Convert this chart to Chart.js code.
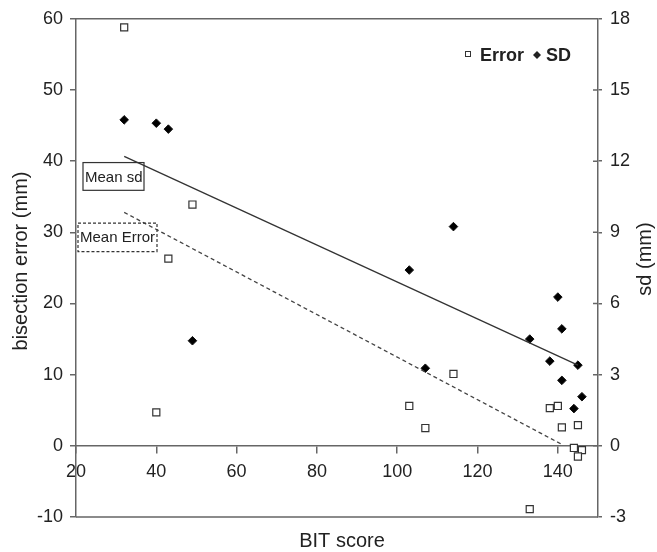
<!DOCTYPE html>
<html>
<head>
<meta charset="utf-8">
<script src="https://cdn.jsdelivr.net/npm/chart.js@4.4.0/dist/chart.umd.min.js"></script>
<style>
  html, body { margin: 0; padding: 0; background: #fff; }
  #wrap { width: 657px; height: 552px; }
</style>
</head>
<body>
<div id="wrap"><canvas id="grafica"></canvas></div>
<script>
// datos
const bitError = [32, 49, 43, 40, 103, 107, 114, 133, 138, 140, 141, 145, 144, 146, 145];
const errorVals = [58.8, 33.9, 26.3, 4.7, 5.6, 2.5, 10.1, -8.9, 5.3, 5.6, 2.6, 2.9, -0.3, -0.6, -1.5];

const bitSD = [32, 40, 43, 49, 114, 103, 107, 133, 138, 140, 141, 141, 145, 144, 146];
const sdVals = [13.74, 13.6, 13.35, 4.43, 9.24, 7.41, 3.27, 4.5, 3.57, 6.27, 4.93, 2.76, 3.4, 1.57, 2.07];

// lineas de tendencia (extremos)
const meanSdX = [32, 145];
const meanSdY = [12.2, 3.4];
const meanErrX = [32, 141];
const meanErrY = [32.8, 0.2];

// ticks
const xTicks = [20, 40, 60, 80, 100, 120, 140];
const yTicks = [-10, 0, 10, 20, 30, 40, 50, 60];
const y2Ticks = [-3, 0, 3, 6, 9, 12, 15, 18];

const FONT = '"Liberation Sans", Arial, sans-serif';
const AXIS = '#666';
const INK = '#222';

function puntos(xs, ys) {
  return xs.map((x, i) => ({ x: x, y: ys[i] }));
}

// dibuja bordes, titulos, leyenda y cajas de texto
const decoracion = {
  id: 'decoracion',
  afterDraw(chart) {
    const ctx = chart.ctx;
    const a = chart.chartArea;
    const y = chart.scales.y;
    const y2 = chart.scales.y2;
    ctx.save();

    // borde superior e inferior
    ctx.strokeStyle = AXIS;
    ctx.lineWidth = 1.5;
    ctx.beginPath();
    ctx.moveTo(a.left, a.top); ctx.lineTo(a.right, a.top);
    ctx.moveTo(a.left, a.bottom); ctx.lineTo(a.right, a.bottom);
    // parte interior de los ticks del eje derecho
    y2Ticks.forEach(v => {
      const py = y2.getPixelForValue(v);
      ctx.moveTo(a.right - 5, py); ctx.lineTo(a.right, py);
    });
    ctx.stroke();

    // titulos de ejes
    ctx.fillStyle = INK;
    ctx.font = '20px ' + FONT;
    ctx.textAlign = 'center';
    ctx.textBaseline = 'middle';
    ctx.fillText('BIT score', 342, 541);

    ctx.save();
    ctx.translate(21, 261);
    ctx.rotate(-Math.PI / 2);
    ctx.fillText('bisection error (mm)', 0, 0);
    ctx.restore();

    ctx.save();
    ctx.translate(645, 259);
    ctx.rotate(-Math.PI / 2);
    ctx.fillText('sd (mm)', 0, 0);
    ctx.restore();

    // leyenda
    ctx.font = 'bold 18px ' + FONT;
    ctx.textAlign = 'left';
    ctx.textBaseline = 'alphabetic';
    ctx.lineWidth = 1;
    ctx.strokeStyle = '#333';
    ctx.fillStyle = '#fff';
    ctx.fillRect(465.5, 51.5, 5, 5);
    ctx.strokeRect(465.5, 51.5, 5, 5);
    ctx.fillStyle = INK;
    ctx.fillText('Error', 480, 61);
    ctx.beginPath();
    ctx.moveTo(537, 51); ctx.lineTo(541, 55); ctx.lineTo(537, 59); ctx.lineTo(533, 55);
    ctx.closePath();
    ctx.fill();
    ctx.fillText('SD', 546, 61);

    // cajas "Mean sd" y "Mean Error"
    ctx.font = '15px ' + FONT;
    ctx.textBaseline = 'middle';
    ctx.strokeStyle = '#333';
    ctx.lineWidth = 1.2;
    const t1 = y.getPixelForValue(39.8), b1 = y.getPixelForValue(35.9);
    ctx.strokeRect(a.left + 7, t1, 61, b1 - t1);
    ctx.fillText('Mean sd', a.left + 9, (t1 + b1) / 2 + 1);

    const t2 = y.getPixelForValue(31.3), b2 = y.getPixelForValue(27.3);
    ctx.setLineDash([3, 2]);
    ctx.strokeRect(a.left + 2, t2, 79, b2 - t2);
    ctx.setLineDash([]);
    ctx.fillText('Mean Error', a.left + 4, (t2 + b2) / 2 + 1);

    ctx.restore();
  }
};

new Chart(document.getElementById('grafica'), {
  type: 'scatter',
  data: {
    datasets: [
      {
        label: 'Mean sd',
        data: puntos(meanSdX, meanSdY),
        yAxisID: 'y2',
        showLine: true,
        borderColor: '#333',
        borderWidth: 1.3,
        pointRadius: 0
      },
      {
        label: 'Mean Error',
        data: puntos(meanErrX, meanErrY),
        yAxisID: 'y',
        showLine: true,
        borderColor: '#444',
        borderWidth: 1.3,
        borderDash: [4, 3],
        pointRadius: 0
      },
      {
        label: 'Error',
        data: puntos(bitError, errorVals),
        yAxisID: 'y',
        pointStyle: 'rect',
        pointRadius: 5,
        backgroundColor: '#fff',
        borderColor: '#333',
        borderWidth: 1.2
      },
      {
        label: 'SD',
        data: puntos(bitSD, sdVals),
        yAxisID: 'y2',
        pointStyle: 'rectRot',
        pointRadius: 4.3,
        backgroundColor: '#000',
        borderColor: '#111',
        borderWidth: 1
      }
    ]
  },
  options: {
    responsive: true,
    maintainAspectRatio: false,
    animation: false,
    layout: { padding: { left: 0, right: 0, top: 17, bottom: 35 } },
    plugins: {
      legend: { display: false },
      tooltip: { enabled: false }
    },
    scales: {
      x: {
        type: 'linear',
        min: 20,
        max: 150,
        position: { y: 0 },
        afterBuildTicks: s => { s.ticks = xTicks.map(v => ({ value: v })); },
        grid: { drawOnChartArea: false, drawTicks: true, tickLength: 7, color: AXIS, lineWidth: 1.5 },
        border: { color: AXIS, width: 1.5 },
        ticks: { color: INK, font: { size: 18, family: FONT }, padding: 8, maxRotation: 0 }
      },
      y: {
        type: 'linear',
        position: 'left',
        min: -10,
        max: 60,
        afterBuildTicks: s => { s.ticks = yTicks.map(v => ({ value: v })); },
        afterFit: s => { s.width = 76; },
        grid: { drawOnChartArea: false, drawTicks: true, tickLength: 6, color: AXIS, lineWidth: 1.5 },
        border: { color: AXIS, width: 1.5 },
        ticks: { color: INK, font: { size: 18, family: FONT }, padding: 7 }
      },
      y2: {
        type: 'linear',
        position: 'right',
        min: -3,
        max: 18,
        afterBuildTicks: s => { s.ticks = y2Ticks.map(v => ({ value: v })); },
        afterFit: s => { s.width = 59; },
        grid: { drawOnChartArea: false, drawTicks: true, tickLength: 4, color: AXIS, lineWidth: 1.5 },
        border: { color: AXIS, width: 1.5 },
        ticks: { color: INK, font: { size: 18, family: FONT }, padding: 8 }
      }
    }
  },
  plugins: [decoracion]
});
</script>
</body>
</html>
